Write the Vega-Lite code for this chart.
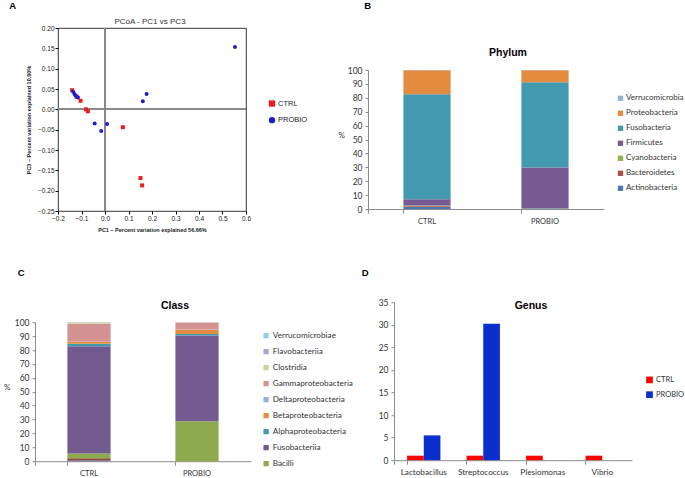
{
  "$schema": "https://vega.github.io/schema/vega-lite/v6.json",
  "background": "white",
  "padding": 0,
  "spacing": 33.2,
  "resolve": {"scale": {"color": "independent", "shape": "independent"}, "legend": {"color": "independent", "shape": "independent"}},
  "config": {
    "view": {"stroke": null},
    "font": "Liberation Sans",
    "title": {"color": "black", "font": "Liberation Sans"},
    "axis": {"labelColor": "#333333", "domainColor": "#8c8c8c", "tickColor": "#8c8c8c", "grid": false, "labelOverlap": false, "labelFlush": false},
    "axisQuantitative": {"labelOverlap": false, "labelFlush": false}
  },
  "vconcat": [
    {
      "spacing": 0,
      "resolve": {"scale": {"color": "independent", "shape": "independent"}, "legend": {"color": "independent", "shape": "independent"}},
      "hconcat": [
        {"width": 9, "height": 1, "data": {"values": []}, "mark": {"type": "point"}, "encoding": {}},
        {
          "spacing": 0,
          "resolve": {"scale": {"color": "independent", "shape": "independent"}, "legend": {"color": "independent", "shape": "independent"}},
          "vconcat": [
            {"width": 1, "height": 4.3, "data": {"values": []}, "mark": {"type": "point"}, "encoding": {},
             "title": {"text": "A", "anchor": "start", "frame": "group", "fontSize": 9.5, "fontWeight": "bold", "offset": 2, "dx": -48.8}},
            {
              "width": 188,
              "height": 183,
              "view": {"stroke": "black", "strokeWidth": 0.8},
              "title": {"text": "PCoA - PC1 vs PC3", "fontSize": 8, "fontWeight": "normal", "color": "#333333", "offset": -1.3, "frame": "group", "anchor": "middle", "dx": -2},
              "data": {"values": [
                {"group": "CTRL", "pc1": -0.140, "pc3": 0.047},
                {"group": "CTRL", "pc1": -0.121, "pc3": 0.031},
                {"group": "CTRL", "pc1": -0.104, "pc3": 0.021},
                {"group": "CTRL", "pc1": -0.081, "pc3": 0.000},
                {"group": "CTRL", "pc1": -0.073, "pc3": -0.005},
                {"group": "CTRL", "pc1": 0.076, "pc3": -0.044},
                {"group": "CTRL", "pc1": 0.151, "pc3": -0.169},
                {"group": "CTRL", "pc1": 0.158, "pc3": -0.187},
                {"group": "PROBIO", "pc1": -0.135, "pc3": 0.043},
                {"group": "PROBIO", "pc1": -0.130, "pc3": 0.038},
                {"group": "PROBIO", "pc1": -0.125, "pc3": 0.034},
                {"group": "PROBIO", "pc1": -0.115, "pc3": 0.029},
                {"group": "PROBIO", "pc1": -0.044, "pc3": -0.035},
                {"group": "PROBIO", "pc1": -0.016, "pc3": -0.053},
                {"group": "PROBIO", "pc1": 0.009, "pc3": -0.036},
                {"group": "PROBIO", "pc1": 0.161, "pc3": 0.020},
                {"group": "PROBIO", "pc1": 0.177, "pc3": 0.038},
                {"group": "PROBIO", "pc1": 0.553, "pc3": 0.153}
              ]},
              "layer": [
                {
                  "mark": {"type": "rule", "color": "#888888", "strokeWidth": 1},
                  "encoding": {
                    "x": {"datum": 0, "type": "quantitative", "scale": {"domain": [-0.2, 0.6], "nice": false, "zero": false},
                      "title": "PC1 – Percent variation explained 56.66%",
                      "axis": {"values": [-0.2, -0.1, 0, 0.1, 0.2, 0.3, 0.4, 0.5, 0.6], "format": ".1f", "labelOverlap": false, "labelFlush": false, "labelFontSize": 6.5, "labelColor": "#222222", "tickColor": "black", "tickSize": 3, "domain": false, "labelPadding": 1, "titleFontSize": 5.5, "titleFontWeight": "bold", "titleColor": "#222222", "titlePadding": 6}}
                  }
                },
                {
                  "mark": {"type": "rule", "color": "#888888", "strokeWidth": 1},
                  "encoding": {
                    "y": {"datum": 0, "type": "quantitative", "scale": {"domain": [-0.25, 0.2], "nice": false, "zero": false},
                      "title": "PC3 – Percent variation explained 10.90%",
                      "axis": {"values": [-0.25, -0.2, -0.15, -0.1, -0.05, 0, 0.05, 0.1, 0.15, 0.2], "format": ".2f", "labelOverlap": false, "labelFlush": false, "labelFontSize": 6.5, "labelColor": "#222222", "tickColor": "black", "tickSize": 3, "domain": false, "labelPadding": 1, "titleFontSize": 5.5, "titleFontWeight": "bold", "titleColor": "#222222", "titlePadding": 6}}
                  }
                },
                {
                  "mark": {"type": "point", "filled": true, "opacity": 1, "size": 16},
                  "encoding": {
                    "x": {"field": "pc1", "type": "quantitative", "scale": {"domain": [-0.2, 0.6], "nice": false, "zero": false},
                      "title": "PC1 – Percent variation explained 56.66%",
                      "axis": {"values": [-0.2, -0.1, 0, 0.1, 0.2, 0.3, 0.4, 0.5, 0.6], "format": ".1f", "labelOverlap": false, "labelFlush": false, "labelFontSize": 6.5, "labelColor": "#222222", "tickColor": "black", "tickSize": 3, "domain": false, "labelPadding": 1, "titleFontSize": 5.5, "titleFontWeight": "bold", "titleColor": "#222222", "titlePadding": 6}},
                    "y": {"field": "pc3", "type": "quantitative", "scale": {"domain": [-0.25, 0.2], "nice": false, "zero": false},
                      "title": "PC3 – Percent variation explained 10.90%",
                      "axis": {"values": [-0.25, -0.2, -0.15, -0.1, -0.05, 0, 0.05, 0.1, 0.15, 0.2], "format": ".2f", "labelOverlap": false, "labelFlush": false, "labelFontSize": 6.5, "labelColor": "#222222", "tickColor": "black", "tickSize": 3, "domain": false, "labelPadding": 1, "titleFontSize": 5.5, "titleFontWeight": "bold", "titleColor": "#222222", "titlePadding": 6}},
                    "color": {"field": "group", "type": "nominal", "scale": {"domain": ["CTRL", "PROBIO"], "range": ["#ee1c1c", "#1c1ccc"]},
                      "legend": {"title": null, "orient": "none", "legendX": 210, "legendY": 71.5, "symbolType": "square", "symbolSize": 40, "labelFontSize": 7.5, "labelFont": "Liberation Sans", "labelColor": "#222222", "rowPadding": 8.7, "labelOffset": 2, "padding": 0}},
                    "shape": {"field": "group", "type": "nominal", "scale": {"domain": ["CTRL", "PROBIO"], "range": ["square", "circle"]}, "legend": null}
                  }
                }
              ]
            }
          ]
        },
        {"width": 28.5, "height": 1, "data": {"values": []}, "mark": {"type": "point"}, "encoding": {}},
        {
          "spacing": 0,
          "resolve": {"scale": {"color": "independent"}, "legend": {"color": "independent"}},
          "vconcat": [
            {"width": 1, "height": 36, "data": {"values": []}, "mark": {"type": "point"}, "encoding": {},
             "title": {"text": "B", "anchor": "start", "frame": "group", "fontSize": 9.5, "fontWeight": "bold", "offset": 2, "dx": -3.7}},
            {
              "width": 236,
              "height": 139,
              "title": {"text": "Phylum", "fontSize": 10.5, "fontWeight": "bold", "offset": 7.2, "frame": "group", "anchor": "middle", "dx": 22},
              "data": {"values": [
                {"group": "CTRL", "phylum": "Actinobacteria", "pct": 1.5},
                {"group": "CTRL", "phylum": "Bacteroidetes", "pct": 0.5},
                {"group": "CTRL", "phylum": "Cyanobacteria", "pct": 0.5},
                {"group": "CTRL", "phylum": "Firmicutes", "pct": 4.5},
                {"group": "CTRL", "phylum": "Fusobacteria", "pct": 75.5},
                {"group": "CTRL", "phylum": "Proteobacteria", "pct": 17.3},
                {"group": "CTRL", "phylum": "Verrucomicrobia", "pct": 0.2},
                {"group": "PROBIO", "phylum": "Actinobacteria", "pct": 0.3},
                {"group": "PROBIO", "phylum": "Bacteroidetes", "pct": 0.1},
                {"group": "PROBIO", "phylum": "Cyanobacteria", "pct": 0.1},
                {"group": "PROBIO", "phylum": "Firmicutes", "pct": 29.3},
                {"group": "PROBIO", "phylum": "Fusobacteria", "pct": 61.3},
                {"group": "PROBIO", "phylum": "Proteobacteria", "pct": 8.7},
                {"group": "PROBIO", "phylum": "Verrucomicrobia", "pct": 0.2}
              ]},
              "mark": {"type": "bar"},
              "encoding": {
                "x": {"field": "group", "type": "nominal", "scale": {"paddingInner": 0.6, "paddingOuter": 0.3},
                  "axis": {"title": null, "labelAngle": 0, "bandPosition": 0, "tickExtra": true, "tickSize": 4, "labelPadding": 4, "labelFont": "Lato", "labelFontSize": 7.5}},
                "y": {"field": "pct", "type": "quantitative", "stack": "zero", "scale": {"domain": [0, 100], "nice": false},
                  "axis": {"title": "%", "titleAngle": 0, "titleFont": "Lato", "titleFontSize": 8, "titleFontWeight": "normal", "titleColor": "#333333", "titlePadding": 6, "values": [0, 10, 20, 30, 40, 50, 60, 70, 80, 90, 100], "labelFlush": false, "labelFont": "Lato", "labelFontSize": 8.5, "tickSize": 3, "labelPadding": 3}},
                "color": {"field": "phylum", "type": "nominal",
                  "scale": {"domain": ["Verrucomicrobia", "Proteobacteria", "Fusobacteria", "Firmicutes", "Cyanobacteria", "Bacteroidetes", "Actinobacteria"],
                    "range": ["#95B3D7", "#E38B3E", "#4299B0", "#775A93", "#8FB04C", "#B24A46", "#4A78AE"]},
                  "legend": {"title": null, "orient": "none", "legendX": 248.5, "legendY": 24.3, "symbolType": "square", "symbolSize": 28, "labelFont": "Lato", "labelFontSize": 8, "labelColor": "#333333", "rowPadding": 7, "labelOffset": 1.5, "padding": 0, "labelLimit": 200}},
                "order": {"field": "phylum", "type": "ordinal", "sort": "ascending"}
              }
            }
          ]
        }
      ]
    },
    {
      "spacing": 0,
      "resolve": {"scale": {"color": "independent", "shape": "independent"}, "legend": {"color": "independent", "shape": "independent"}},
      "hconcat": [
        {"width": 3, "height": 1, "data": {"values": []}, "mark": {"type": "point"}, "encoding": {}},
        {
          "spacing": 0,
          "resolve": {"scale": {"color": "independent"}, "legend": {"color": "independent"}},
          "vconcat": [
            {"width": 1, "height": 20.5, "data": {"values": []}, "mark": {"type": "point"}, "encoding": {},
             "title": {"text": "C", "anchor": "start", "frame": "group", "fontSize": 9.5, "fontWeight": "bold", "offset": 2, "dx": -17.3}},
            {
              "width": 216,
              "height": 139,
              "title": {"text": "Class", "fontSize": 10.5, "fontWeight": "bold", "offset": 7.1, "frame": "group", "anchor": "middle", "dx": 32},
              "data": {"values": [
                {"group": "CTRL", "taxon": "Actinobacteria", "stackOrder": 1, "pct": 0.7},
                {"group": "CTRL", "taxon": "Bacteroidia", "stackOrder": 2, "pct": 1.5},
                {"group": "CTRL", "taxon": "Bacilli", "stackOrder": 3, "pct": 3.3},
                {"group": "CTRL", "taxon": "Fusobacteriia", "stackOrder": 4, "pct": 77.2},
                {"group": "CTRL", "taxon": "Alphaproteobacteria", "stackOrder": 5, "pct": 1.8},
                {"group": "CTRL", "taxon": "Betaproteobacteria", "stackOrder": 6, "pct": 1.2},
                {"group": "CTRL", "taxon": "Deltaproteobacteria", "stackOrder": 7, "pct": 0.3},
                {"group": "CTRL", "taxon": "Gammaproteobacteria", "stackOrder": 8, "pct": 12.8},
                {"group": "CTRL", "taxon": "Clostridia", "stackOrder": 9, "pct": 1.0},
                {"group": "CTRL", "taxon": "Flavobacteriia", "stackOrder": 10, "pct": 0.1},
                {"group": "CTRL", "taxon": "Verrucomicrobiae", "stackOrder": 11, "pct": 0.1},
                {"group": "PROBIO", "taxon": "Bacilli", "stackOrder": 3, "pct": 28.7},
                {"group": "PROBIO", "taxon": "Fusobacteriia", "stackOrder": 4, "pct": 61.7},
                {"group": "PROBIO", "taxon": "Alphaproteobacteria", "stackOrder": 5, "pct": 1.2},
                {"group": "PROBIO", "taxon": "Betaproteobacteria", "stackOrder": 6, "pct": 3.0},
                {"group": "PROBIO", "taxon": "Deltaproteobacteria", "stackOrder": 7, "pct": 0.2},
                {"group": "PROBIO", "taxon": "Gammaproteobacteria", "stackOrder": 8, "pct": 5.0},
                {"group": "PROBIO", "taxon": "Clostridia", "stackOrder": 9, "pct": 0.1},
                {"group": "PROBIO", "taxon": "Flavobacteriia", "stackOrder": 10, "pct": 0.05},
                {"group": "PROBIO", "taxon": "Verrucomicrobiae", "stackOrder": 11, "pct": 0.05}
              ]},
              "mark": {"type": "bar"},
              "encoding": {
                "x": {"field": "group", "type": "nominal", "scale": {"paddingInner": 0.6, "paddingOuter": 0.3},
                  "axis": {"title": null, "labelAngle": 0, "bandPosition": 0, "tickExtra": true, "tickSize": 4, "labelPadding": 4, "labelFont": "Lato", "labelFontSize": 7.5}},
                "y": {"field": "pct", "type": "quantitative", "stack": "zero", "scale": {"domain": [0, 100], "nice": false},
                  "axis": {"title": "%", "titleAngle": 0, "titleFont": "Lato", "titleFontSize": 8, "titleFontWeight": "normal", "titleColor": "#333333", "titlePadding": 7.5, "values": [0, 10, 20, 30, 40, 50, 60, 70, 80, 90, 100], "labelFlush": false, "labelFont": "Lato", "labelFontSize": 8.5, "tickSize": 3, "labelPadding": 3}},
                "color": {"field": "taxon", "type": "nominal",
                  "scale": {"domain": ["Verrucomicrobiae", "Flavobacteriia", "Clostridia", "Gammaproteobacteria", "Deltaproteobacteria", "Betaproteobacteria", "Alphaproteobacteria", "Fusobacteriia", "Bacilli", "Bacteroidia", "Actinobacteria"],
                    "range": ["#93CDDD", "#B3A2C7", "#C3D69B", "#D49292", "#95B3D7", "#E38B3E", "#4299B0", "#735A90", "#8DAA4E", "#8A4A3C", "#6A5A8A"]},
                  "legend": {"title": null, "values": ["Verrucomicrobiae", "Flavobacteriia", "Clostridia", "Gammaproteobacteria", "Deltaproteobacteria", "Betaproteobacteria", "Alphaproteobacteria", "Fusobacteriia", "Bacilli"], "orient": "none", "legendX": 227, "legendY": 9.3, "symbolType": "square", "symbolSize": 28, "labelFont": "Lato", "labelFontSize": 8.2, "labelColor": "#333333", "rowPadding": 7, "labelOffset": 2.5, "padding": 0, "labelLimit": 200}},
                "order": {"field": "stackOrder", "type": "quantitative", "sort": "ascending"}
              }
            }
          ]
        },
        {"width": 7.9, "height": 1, "data": {"values": []}, "mark": {"type": "point"}, "encoding": {}},
        {
          "spacing": 0,
          "resolve": {"scale": {"color": "independent"}, "legend": {"color": "independent"}},
          "vconcat": [
            {"width": 1, "height": 18.7, "data": {"values": []}, "mark": {"type": "point"}, "encoding": {},
             "title": {"text": "D", "anchor": "start", "frame": "group", "fontSize": 9.5, "fontWeight": "bold", "offset": 2, "dx": -32.3}},
            {
              "width": 238,
              "height": 158,
              "title": {"text": "Genus", "fontSize": 10.5, "fontWeight": "bold", "offset": -13.1, "frame": "group", "anchor": "middle", "dx": 18},
              "data": {"values": [
                {"genus": "Lactobacillus", "group": "CTRL", "value": 1.0},
                {"genus": "Lactobacillus", "group": "PROBIO", "value": 5.5},
                {"genus": "Streptococcus", "group": "CTRL", "value": 1.0},
                {"genus": "Streptococcus", "group": "PROBIO", "value": 30.2},
                {"genus": "Plesiomonas", "group": "CTRL", "value": 1.0},
                {"genus": "Plesiomonas", "group": "PROBIO", "value": 0},
                {"genus": "Vibrio", "group": "CTRL", "value": 1.0},
                {"genus": "Vibrio", "group": "PROBIO", "value": 0}
              ]},
              "mark": {"type": "bar"},
              "encoding": {
                "x": {"field": "genus", "type": "nominal", "sort": ["Lactobacillus", "Streptococcus", "Plesiomonas", "Vibrio"], "scale": {"paddingInner": 0.44, "paddingOuter": 0.22},
                  "axis": {"title": null, "labelAngle": 0, "bandPosition": 0, "tickExtra": true, "tickSize": 4, "labelPadding": 4, "labelFont": "Lato", "labelFontSize": 8.2}},
                "xOffset": {"field": "group", "type": "nominal", "sort": ["CTRL", "PROBIO"]},
                "y": {"field": "value", "type": "quantitative", "scale": {"domain": [0, 35], "nice": false},
                  "axis": {"title": null, "values": [0, 5, 10, 15, 20, 25, 30, 35], "labelFlush": false, "labelFont": "Lato", "labelFontSize": 8.5, "tickSize": 3, "labelPadding": 3}},
                "color": {"field": "group", "type": "nominal", "scale": {"domain": ["CTRL", "PROBIO"], "range": ["#FF0000", "#0A2FCC"]},
                  "legend": {"title": null, "orient": "none", "legendX": 251, "legendY": 73.2, "symbolType": "square", "symbolSize": 45, "labelFont": "Lato", "labelFontSize": 7.5, "labelColor": "#333333", "rowPadding": 6.8, "labelOffset": 2, "padding": 0}}
              }
            }
          ]
        }
      ]
    }
  ]
}
